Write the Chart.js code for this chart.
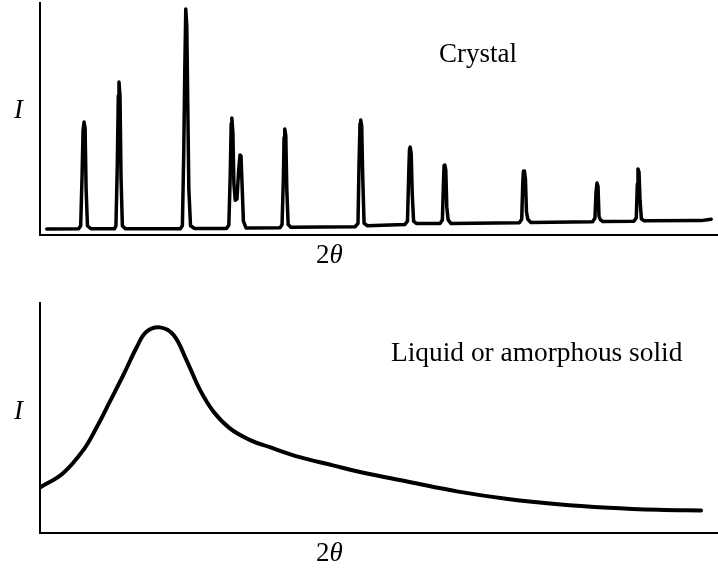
<!DOCTYPE html>
<html>
<head>
<meta charset="utf-8">
<script src="https://cdn.jsdelivr.net/npm/chart.js@4.4.1/dist/chart.umd.min.js"></script>
<style>
  html, body { margin: 0; padding: 0; background: #fff; }
  body { width: 718px; height: 568px; position: relative; overflow: hidden; }
  canvas { position: absolute; left: 0; }
  .lbl { position: absolute; font-family: 'Liberation Serif', 'Times New Roman', serif; font-size: 27px; line-height: 27px; color: #000; white-space: nowrap; }
  .it { font-style: italic; }
</style>
</head>
<body>
<canvas id="top" width="718" height="250" style="top:0px"></canvas>
<canvas id="bot" width="718" height="260" style="top:290px"></canvas>
<div class="lbl it" style="left:14px; top:96px;">I</div>
<div class="lbl" style="left:316px; top:241px;">2<span class="it">θ</span></div>
<div class="lbl" style="left:439px; top:40px;">Crystal</div>
<div class="lbl it" style="left:14px; top:397px;">I</div>
<div class="lbl" style="left:316px; top:539px;">2<span class="it">θ</span></div>
<div class="lbl" style="left:391px; top:339px; font-size:27.4px;">Liquid or amorphous solid</div>
<script>
// Crystal diffraction pattern (arbitrary units)
const crystal2Theta = [
  1.0, 5.7,
  6.0, 6.2, 6.35, 6.5, 6.65, 6.8, 7.0, 7.5,
  11.0, 11.2, 11.4, 11.55, 11.65, 11.8, 11.95, 12.15, 12.6,
  20.7, 21.0, 21.2, 21.35, 21.5, 21.65, 21.8, 21.95, 22.2, 22.8,
  27.5, 27.85, 28.05, 28.2, 28.3, 28.45, 28.6, 28.8, 29.05, 29.3, 29.5, 29.65, 29.8, 30.0, 30.4,
  35.4, 35.7, 35.9, 36.0, 36.1, 36.25, 36.4, 36.6, 37.0,
  46.5, 46.9, 47.05, 47.2, 47.3, 47.45, 47.6, 47.8, 48.3,
  53.8, 54.2, 54.4, 54.5, 54.6, 54.75, 54.9, 55.1, 55.5,
  59.0, 59.35, 59.5, 59.6, 59.7, 59.85, 60.0, 60.2, 60.6,
  70.7, 71.05, 71.2, 71.3, 71.45, 71.6, 71.75, 71.95, 72.4,
  81.5, 81.85, 82.0, 82.15, 82.3, 82.45, 82.65, 83.0,
  87.6, 87.95, 88.1, 88.2, 88.35, 88.5, 88.7, 89.1,
  97.5, 99.0
];
const crystalIntensity = [
  2.6, 2.7,
  4.0, 25, 45, 48.7, 46, 20, 4.0, 2.7,
  2.7, 4.0, 30, 60, 65.9, 60, 25, 4.0, 2.7,
  2.7, 4.0, 35, 70, 97.4, 90, 55, 20, 4.0, 2.8,
  2.8, 4.2, 25, 48, 50.4, 44, 22, 15, 15.5, 28, 34.5, 34, 22, 6.0, 3.0,
  3.1, 4.5, 25, 42, 45.7, 43, 20, 4.5, 3.3,
  3.6, 5.0, 30, 48, 49.6, 47, 25, 5.0, 4.0,
  4.5, 6.0, 28, 37, 37.9, 35, 18, 6.0, 5.0,
  5.0, 6.5, 22, 30, 30.2, 28, 12, 6.5, 5.0,
  5.3, 6.8, 22, 27.5, 27.6, 24, 10, 6.8, 5.4,
  5.7, 7.2, 18, 22.4, 21, 8.0, 6.6, 5.8,
  5.9, 7.4, 22, 28.4, 27, 15, 7.0, 6.1,
  6.2, 6.8
];

// Liquid / amorphous solid broad halo
const amorphous2Theta = [0, 3.4, 6.4, 8.4, 10.3, 12.3, 14.3, 15.7, 17.7, 19.7, 21.6, 23.6, 25.6, 28.0, 31.0, 33.9, 38.3, 43.2, 47.2, 54.3, 61.7, 69.0, 76.4, 83.8, 91.2, 97.5];
const amorphousIntensity = [19.8, 26.0, 36.1, 46.2, 57.1, 68.7, 81.0, 87.5, 89.4, 86.1, 75.2, 62.2, 52.7, 45.5, 40.4, 37.3, 33.0, 29.4, 26.5, 22.3, 18.0, 14.8, 12.5, 11.0, 10.1, 9.8];

function toPoints(xs, ys) { return xs.map((x, i) => ({ x: x, y: ys[i] })); }

function axis() {
  return {
    type: 'linear', min: 0, max: 100,
    ticks: { display: false },
    grid: { display: false, drawTicks: false },
    border: { display: true, color: '#000', width: 2 }
  };
}

function makeChart(id, pts, pad, smooth, lw) {
  return new Chart(document.getElementById(id), {
    type: 'line',
    data: { datasets: [{
      data: pts,
      borderColor: '#000',
      borderWidth: lw,
      pointRadius: 0,
      fill: false,
      tension: smooth ? 0.4 : 0,
      borderJoinStyle: 'round',
      borderCapStyle: 'round'
    }] },
    options: {
      responsive: false,
      animation: false,
      devicePixelRatio: 1,
      layout: { padding: pad },
      plugins: { legend: { display: false }, tooltip: { enabled: false }, title: { display: false } },
      scales: { x: axis(), y: axis() }
    }
  });
}

makeChart('top', toPoints(crystal2Theta, crystalIntensity), { left: 40, right: 0, top: 3, bottom: 15 }, false, 3.5);
makeChart('bot', toPoints(amorphous2Theta, amorphousIntensity), { left: 40, right: 0, top: 13, bottom: 17 }, true, 4);
</script>
</body>
</html>
